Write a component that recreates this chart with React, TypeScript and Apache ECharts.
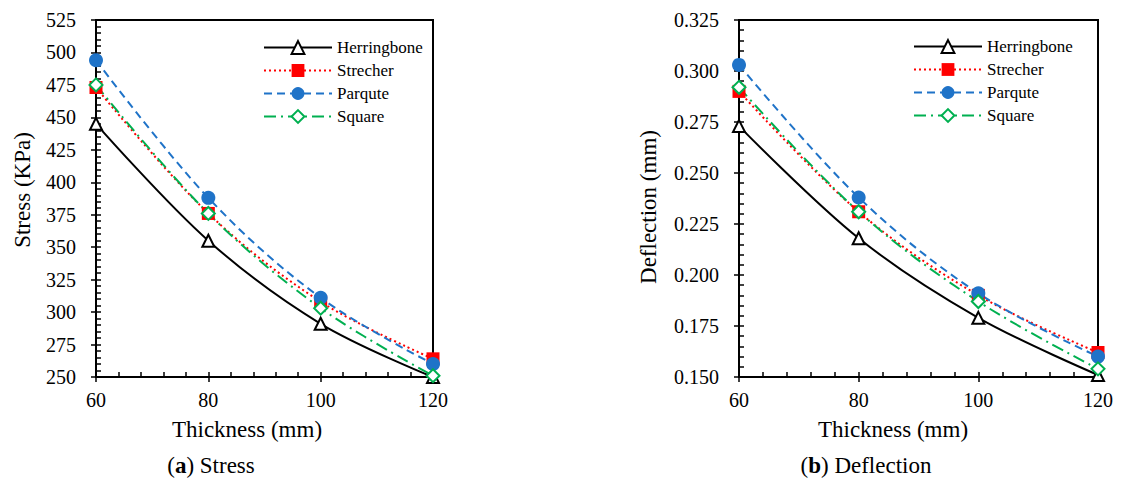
import React, { useEffect, useRef } from "react";
import * as echarts from "echarts";

const thickness = [60, 80, 100, 120];
const seriesNames = ["Herringbone", "Strecher", "Parqute", "Square"];

const stressHerringbone = [445, 355, 291, 250];
const stressStrecher = [473, 376, 308, 264];
const stressParqute = [494, 388, 311, 260];
const stressSquare = [475, 376, 303, 251];

const deflHerringbone = [0.273, 0.218, 0.179, 0.151];
const deflStrecher = [0.29, 0.231, 0.19, 0.162];
const deflParqute = [0.303, 0.238, 0.191, 0.16];
const deflSquare = [0.292, 0.231, 0.187, 0.154];

const FONT = "'Times New Roman', 'Liberation Serif', Tinos, 'DejaVu Serif', serif";

const styles: Record<string, any> = {
  Herringbone: {
    symbol: "emptyTriangle",
    symbolSize: 12,
    lineStyle: { color: "#000000", width: 2, type: "solid" },
    itemStyle: { color: "#000000", borderColor: "#000000", borderWidth: 1.5 },
  },
  Strecher: {
    symbol: "rect",
    symbolSize: 13,
    lineStyle: { color: "#FF0000", width: 2, type: [2, 3] },
    itemStyle: { color: "#FF0000", borderWidth: 0 },
  },
  Parqute: {
    symbol: "circle",
    symbolSize: 14,
    lineStyle: { color: "#1F73C8", width: 2, type: [8, 5] },
    itemStyle: { color: "#1F73C8", borderWidth: 0 },
  },
  Square: {
    symbol: "emptyDiamond",
    symbolSize: 13,
    lineStyle: { color: "#00B050", width: 2, type: [12, 5, 2, 5] },
    itemStyle: { color: "#00B050", borderColor: "#00B050", borderWidth: 1.5 },
  },
};

function makeSeries(name: string, values: number[], idx: number) {
  const s = styles[name];
  return {
    type: "line",
    name,
    xAxisIndex: idx,
    yAxisIndex: idx,
    data: thickness.map((t, i) => [t, values[i]]),
    smooth: 0.35,
    symbol: s.symbol,
    symbolSize: s.symbolSize,
    lineStyle: s.lineStyle,
    itemStyle: s.itemStyle,
    clip: false,
  };
}

function mainX(gridIndex: number) {
  return {
    type: "value",
    gridIndex,
    min: 60,
    max: 120,
    interval: 20,
    position: "bottom",
    axisLine: { show: true, onZero: false, lineStyle: { color: "#000", width: 2 } },
    axisTick: { show: true, inside: false, length: 5, lineStyle: { color: "#000", width: 1.5 } },
    minorTick: { show: false },
    axisLabel: { color: "#000", fontFamily: FONT, fontSize: 20, margin: 13 },
    splitLine: { show: false },
  };
}
function overlayX(gridIndex: number) {
  return {
    type: "value",
    gridIndex,
    min: 60,
    max: 120,
    interval: 20,
    position: "bottom",
    axisLine: { show: false, onZero: false },
    axisTick: { show: true, inside: true, length: 5, lineStyle: { color: "#000", width: 1.5 } },
    minorTick: { show: true, splitNumber: 5, length: 5, lineStyle: { color: "#000", width: 1.5 } },
    axisLabel: { show: false },
    splitLine: { show: false },
    minorSplitLine: { show: false },
  };
}
function mainY(gridIndex: number, min: number, max: number, interval: number, dec: number) {
  return {
    type: "value",
    gridIndex,
    min,
    max,
    interval,
    position: "left",
    axisLine: { show: true, onZero: false, lineStyle: { color: "#000", width: 2 } },
    axisTick: { show: true, inside: false, length: 5, lineStyle: { color: "#000", width: 1.5 } },
    minorTick: { show: false },
    axisLabel: {
      color: "#000",
      fontFamily: FONT,
      fontSize: 20,
      margin: 20,
      formatter: (v: number) => v.toFixed(dec),
    },
    splitLine: { show: false },
  };
}
function overlayY(gridIndex: number, min: number, max: number, interval: number) {
  return {
    type: "value",
    gridIndex,
    min,
    max,
    interval,
    position: "left",
    axisLine: { show: false, onZero: false },
    axisTick: { show: true, inside: true, length: 5, lineStyle: { color: "#000", width: 1.5 } },
    minorTick: { show: true, splitNumber: 5, length: 5, lineStyle: { color: "#000", width: 1.5 } },
    axisLabel: { show: false },
    splitLine: { show: false },
    minorSplitLine: { show: false },
  };
}

function legendAt(left: number, top: number) {
  return {
    orient: "vertical",
    left,
    top,
    padding: 0,
    itemWidth: 68,
    itemHeight: 16,
    itemGap: 6,
    data: seriesNames,
    textStyle: { color: "#000", fontFamily: FONT, fontSize: 17, lineHeight: 17 },
    selectedMode: false,
  };
}

export default function App() {
  const ref = useRef<HTMLDivElement>(null);
  useEffect(() => {
    if (!ref.current) return;
    const chart = echarts.init(ref.current, undefined, { renderer: "svg" });
    const option: any = {
      animation: false,
      backgroundColor: "#ffffff",
      textStyle: { fontFamily: FONT },
      grid: [
        { left: 96, top: 20, width: 337, height: 357, show: true, borderColor: "#000", borderWidth: 2, backgroundColor: "transparent" },
        { left: 739, top: 20, width: 359, height: 357, show: true, borderColor: "#000", borderWidth: 2, backgroundColor: "transparent" },
      ],
      xAxis: [mainX(0), mainX(1), overlayX(0), overlayX(1)],
      yAxis: [
        mainY(0, 250, 525, 25, 0),
        mainY(1, 0.15, 0.325, 0.025, 3),
        overlayY(0, 250, 525, 25),
        overlayY(1, 0.15, 0.325, 0.025),
      ],
      legend: [legendAt(263, 39), legendAt(913, 38)],
      series: [
        makeSeries("Herringbone", stressHerringbone, 0),
        makeSeries("Strecher", stressStrecher, 0),
        makeSeries("Parqute", stressParqute, 0),
        makeSeries("Square", stressSquare, 0),
        makeSeries("Herringbone", deflHerringbone, 1),
        makeSeries("Strecher", deflStrecher, 1),
        makeSeries("Parqute", deflParqute, 1),
        makeSeries("Square", deflSquare, 1),
      ],
      graphic: [
        {
          type: "text",
          x: 247,
          y: 429,
          style: { text: "Thickness (mm)", fontFamily: FONT, fontSize: 23, fill: "#000", align: "center", verticalAlign: "middle" },
        },
        {
          type: "text",
          x: 893,
          y: 429,
          style: { text: "Thickness (mm)", fontFamily: FONT, fontSize: 23, fill: "#000", align: "center", verticalAlign: "middle" },
        },
        {
          type: "text",
          x: 22,
          y: 190,
          rotation: Math.PI / 2,
          style: { text: "Stress (KPa)", fontFamily: FONT, fontSize: 23, fill: "#000", align: "center", verticalAlign: "middle" },
        },
        {
          type: "text",
          x: 648,
          y: 207,
          rotation: Math.PI / 2,
          style: { text: "Deflection (mm)", fontFamily: FONT, fontSize: 23, fill: "#000", align: "center", verticalAlign: "middle" },
        },
        {
          type: "text",
          x: 211,
          y: 465,
          style: {
            text: "({b|a}) Stress",
            fontFamily: FONT,
            fontSize: 23,
            fill: "#000",
            align: "center",
            verticalAlign: "middle",
            rich: { b: { fontFamily: FONT, fontSize: 23, fontWeight: "bold", fill: "#000" } },
          },
        },
        {
          type: "text",
          x: 866,
          y: 465,
          style: {
            text: "({b|b}) Deflection",
            fontFamily: FONT,
            fontSize: 23,
            fill: "#000",
            align: "center",
            verticalAlign: "middle",
            rich: { b: { fontFamily: FONT, fontSize: 23, fontWeight: "bold", fill: "#000" } },
          },
        },
      ],
    };
    chart.setOption(option);
    return () => chart.dispose();
  }, []);
  return (
    <div
      ref={ref}
      style={{ position: "absolute", left: 0, top: 0, width: 1121, height: 482, background: "#fff" }}
    />
  );
}
